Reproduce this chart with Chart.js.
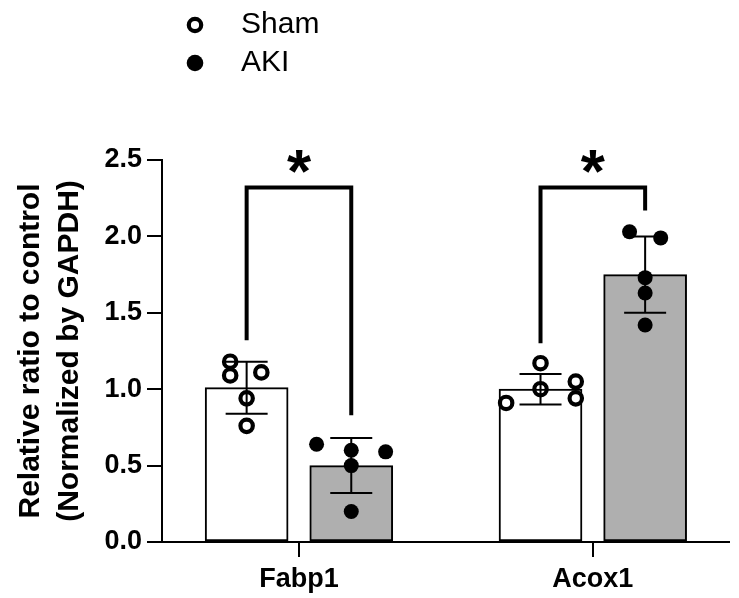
<!DOCTYPE html>
<html>
<head>
<meta charset="utf-8">
<title>Fabp1 / Acox1 relative expression</title>
<script src="https://cdn.jsdelivr.net/npm/chart.js@4.4.1/dist/chart.umd.min.js"></script>
<style>
  html, body { margin: 0; padding: 0; background: #fff; }
  #wrap { position: relative; width: 739px; height: 598px; }
</style>
</head>
<body>
<div id="wrap"><canvas id="geneChart"></canvas></div>
<script>
// values
const categories = ['Fabp1', 'Acox1'];
const shamMean = [1.01, 1.00];
const shamSD = [0.17, 0.10];
const akiMean = [0.50, 1.75];
const akiSD = [0.18, 0.25];
const shamValues = [[1.18, 1.09, 1.11, 0.94, 0.76], [1.17, 1.00, 1.05, 0.94, 0.91]];
const shamJitter = [[-0.056, -0.056, 0.05, 0, 0], [0, 0, 0.12, 0.12, -0.117]];
const akiValues = [[0.64, 0.60, 0.59, 0.50, 0.20], [2.03, 1.99, 1.73, 1.63, 1.42]];
const akiJitter = [[-0.118, 0, 0.117, 0, 0], [-0.053, 0.053, 0, 0, 0]];
const bracketTop = [2.32, 2.32];
const bracketShamEnd = [1.32, 1.30];
const bracketAkiEnd = [0.83, 2.17];
const significance = ['*', '*'];
const yTicks = [0, 0.5, 1.0, 1.5, 2.0, 2.5];

const groupShift = 0.178; // half the distance between the two bars of a gene, in category units
const FONT = "'Liberation Sans', Arial, sans-serif";
Chart.defaults.font.family = FONT;
Chart.defaults.color = '#000';

function barSet(label, means, errors, fill, sign) {
    return {
        type: 'bar',
        label: label,
        order: 3,
        errors: errors,
        data: means.map((m, i) => ({ x: i + sign * groupShift, y: m })),
        backgroundColor: fill,
        borderColor: '#000',
        borderWidth: 2,
        borderSkipped: false,
        barThickness: 83,
        grouped: false
    };
}

function pointSet(label, values, jitter, sign, filled) {
    const pts = [];
    values.forEach((list, i) => {
        list.forEach((v, k) => pts.push({ x: i + sign * groupShift + jitter[i][k], y: v }));
    });
    return {
        type: 'scatter',
        label: label,
        order: 1,
        legendItem: true,
        hollow: !filled,
        data: pts,
        pointStyle: 'circle',
        pointRadius: filled ? 7.5 : 6.2,
        pointHoverRadius: filled ? 7.5 : 6.2,
        pointBackgroundColor: filled ? '#000' : 'rgba(0,0,0,0)',
        pointBorderColor: '#000',
        pointBorderWidth: filled ? 0 : 4.2
    };
}

function bracketSet(i) {
    return {
        type: 'line',
        order: 2,
        data: [
            { x: i - groupShift, y: bracketShamEnd[i] },
            { x: i - groupShift, y: bracketTop[i] },
            { x: i + groupShift, y: bracketTop[i] },
            { x: i + groupShift, y: bracketAkiEnd[i] }
        ],
        borderColor: '#000',
        borderWidth: 4,
        borderJoinStyle: 'miter',
        borderCapStyle: 'butt',
        pointRadius: 0,
        fill: false,
        tension: 0
    };
}

// mean ± SD whiskers, drawn right after each bar dataset
const errorBars = {
    id: 'errorBars',
    afterDatasetDraw(chart, args) {
        const ds = chart.data.datasets[args.index];
        if (!ds.errors) return;
        const y = chart.scales.y;
        const ctx = chart.ctx;
        ctx.save();
        ctx.strokeStyle = '#000';
        ctx.lineWidth = 2;
        args.meta.data.forEach((bar, i) => {
            const m = ds.data[i].y, sd = ds.errors[i];
            const top = y.getPixelForValue(m + sd), bot = y.getPixelForValue(m - sd);
            ctx.beginPath();
            ctx.moveTo(bar.x, top); ctx.lineTo(bar.x, bot);
            ctx.moveTo(bar.x - 21, top); ctx.lineTo(bar.x + 21, top);
            ctx.moveTo(bar.x - 21, bot); ctx.lineTo(bar.x + 21, bot);
            ctx.stroke();
        });
        ctx.restore();
    }
};

// asterisks above the brackets
const stars = {
    id: 'stars',
    afterDatasetsDraw(chart) {
        const { ctx, scales: { x, y } } = chart;
        ctx.save();
        ctx.font = 'bold 62px ' + FONT;
        ctx.fillStyle = '#000';
        ctx.textAlign = 'center';
        ctx.textBaseline = 'alphabetic';
        significance.forEach((s, i) => {
            const m = ctx.measureText(s);
            const cy = y.getPixelForValue(bracketTop[i]) - 26;
            ctx.fillText(s, x.getPixelForValue(i), cy + (m.actualBoundingBoxAscent - m.actualBoundingBoxDescent) / 2);
        });
        ctx.restore();
    }
};

// stacked legend in the top-left corner
const stackedLegend = {
    id: 'stackedLegend',
    afterDraw(chart) {
        const ctx = chart.ctx;
        const items = chart.data.datasets.filter(d => d.legendItem);
        ctx.save();
        ctx.font = '30px ' + FONT;
        ctx.textBaseline = 'middle';
        ctx.textAlign = 'left';
        items.forEach((d, k) => {
            const cy = 25 + k * 38;
            ctx.beginPath();
            if (d.hollow) {
                ctx.arc(195, cy, 6.2, 0, Math.PI * 2);
                ctx.lineWidth = 4.2;
                ctx.strokeStyle = '#000';
                ctx.stroke();
            } else {
                ctx.arc(195, cy, 8.3, 0, Math.PI * 2);
                ctx.fillStyle = '#000';
                ctx.fill();
            }
            ctx.fillStyle = '#000';
            ctx.fillText(d.label, 241, cy);
        });
        ctx.restore();
    }
};

const axisLine = { display: true, color: '#000', width: 2 };
const tickMarks = { display: true, offset: false, drawOnChartArea: false, drawTicks: true, tickLength: 15, lineWidth: 2, color: '#000' };

new Chart(document.getElementById('geneChart'), {
    type: 'bar',
    data: {
        datasets: [
            barSet('Sham', shamMean, shamSD, '#ffffff', -1),
            barSet('AKI', akiMean, akiSD, '#afafaf', 1),
            bracketSet(0),
            bracketSet(1),
            pointSet('Sham', shamValues, shamJitter, -1, false),
            pointSet('AKI', akiValues, akiJitter, 1, true)
        ]
    },
    options: {
        responsive: true,
        maintainAspectRatio: false,
        animation: false,
        layout: { padding: { top: 160, right: 2, bottom: 0, left: 0 } },
        plugins: { legend: { display: false }, tooltip: { enabled: false } },
        scales: {
            x: {
                type: 'linear',
                min: -0.466,
                max: 1.462,
                offset: false,
                afterBuildTicks: s => { s.ticks = categories.map((c, i) => ({ value: i })); },
                afterFit: s => { s.height = 56; },
                ticks: {
                    callback: v => categories[v],
                    font: { size: 27, weight: 'bold' },
                    color: '#000',
                    padding: 6,
                    autoSkip: false,
                    maxRotation: 0
                },
                grid: tickMarks,
                border: axisLine
            },
            y: {
                min: 0,
                max: 2.5,
                afterBuildTicks: s => { s.ticks = yTicks.map(v => ({ value: v })); },
                afterFit: s => { s.width = 162; },
                ticks: {
                    callback: v => v.toFixed(1),
                    font: { size: 27, weight: 'bold' },
                    color: '#000',
                    padding: 5
                },
                grid: tickMarks,
                border: axisLine,
                title: {
                    display: true,
                    text: ['Relative ratio to control', '(Normalized by GAPDH)'],
                    font: { size: 30, weight: 'bold', lineHeight: 1.3 },
                    color: '#000',
                    padding: { top: 11, bottom: 0 }
                }
            }
        }
    },
    plugins: [errorBars, stars, stackedLegend]
});
</script>
</body>
</html>
